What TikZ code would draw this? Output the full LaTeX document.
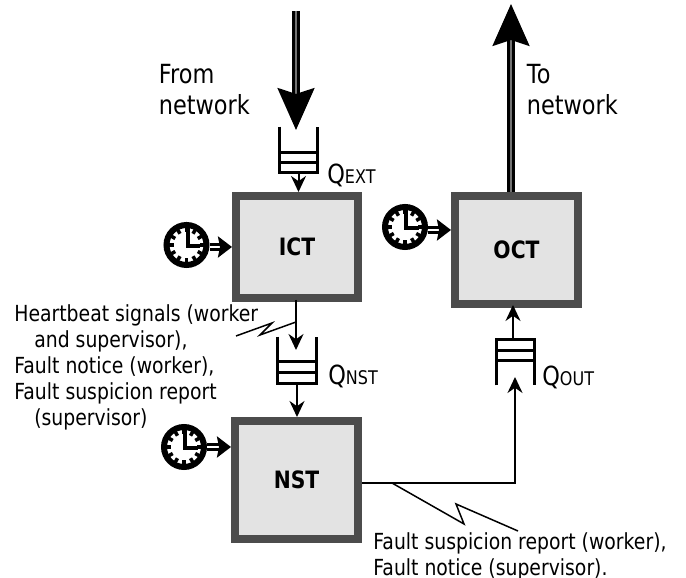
\documentclass[tikz,border=0pt]{standalone}
\usepackage{fontspec}
\setmainfont{DejaVu Sans}[FakeStretch=0.85]
\usetikzlibrary{arrows.meta,calc}

\newcommand{\boxfont}{\fontsize{13.6}{17}\selectfont}
\newcommand{\bigfont}{\fontsize{15}{17.8}\selectfont}
\newcommand{\smallfont}{\fontsize{12.6}{14.8}\selectfont}
\newcommand{\subfont}{\fontsize{10.7}{12}\selectfont}

\newcommand{\clockface}[1]{
  \foreach \a in {0,30,...,330} \draw[tooth] (#1) ++(\a:0.37) -- ++(\a:-0.11);
  \draw[hand] ($(#1)+(0.02,0.34)$) -- ($(#1)+(0.02,-0.02)$) -- ($(#1)+(0.27,-0.02)$);
}
\newcommand{\queuebars}[2]{
  \draw[bar] ([yshift=#2 cm]#1.south west) -- ([yshift=#2 cm]#1.south east);
}

\begin{document}
\begin{tikzpicture}
  [box/.style={draw=black!70,fill=black!11,line width=0.16cm,font=\boxfont\bfseries},
   queue/.style={inner sep=0,minimum width=0.74cm,minimum height=0.9cm},
   clock/.style={draw,shape=circle,fill=white,inner sep=0,minimum size=0.8cm,line width=0.12cm},
   tooth/.style={line width=0.07cm},
   hand/.style={line width=0.08cm},
   bar/.style={line width=0.06cm},
   wall/.style={line width=0.07cm},
   wire/.style={line width=0.04cm,-{Stealth[length=0.32cm,width=0.3cm]}},
   bigarrow/.style={line width=0.055cm,double=black!55,double distance=0.05cm,-{Stealth[length=0.84cm,width=0.74cm,inset=0.12cm]}},
   clockarrow/.style={line width=0.06cm,double=white,double distance=0.04cm,-{Stealth[length=0.28cm,width=0.42cm,inset=0.04cm]}},
   zigzag/.style={line width=0.03cm},
   textlabel/.style={inner sep=0,align=left,anchor=north west}]

  \useasboundingbox (0,0) rectangle (13.72,11.56);

  \node[box,minimum width=2.44cm,minimum height=2.04cm] (ict) at (5.94,6.62) {ICT};
  \node[box,minimum width=2.46cm,minimum height=2.16cm] (oct) at (10.33,6.56) {OCT};
  \node[box,minimum width=2.46cm,minimum height=2.36cm] (nst) at (5.93,1.96) {NST};

  \node[queue] (qext) at (5.97,8.57) {};
  \node[queue,minimum width=0.76cm,minimum height=0.92cm] (qnst) at (5.94,4.36) {};
  \node[queue] (qout) at (10.31,4.31) {};

  \node[clock] (c1) at (3.73,6.66) {};
  \node[clock] (c2) at (8.10,7.02) {};
  \node[clock] (c3) at (3.68,2.62) {};
  \clockface{c1}
  \clockface{c2}
  \clockface{c3}

  \coordinate (netin) at (5.92,11.34);
  \coordinate (qextin) at (5.92,8.96);
  \coordinate (netout) at (10.22,11.48);
  \coordinate (ictout) at (5.92,5.56);
  \coordinate (qnstin) at (5.92,4.56);
  \coordinate (bend) at (10.30,1.90);
  \coordinate (qoutin) at (10.30,4.02);
  \coordinate (octin) at (10.26,5.46);
  \coordinate (t2) at (9.02,6.96);
  \coordinate (t3) at (4.62,2.62);

  % queues
  \draw[wall] (qext.north west) -- (qext.south west) -- (qext.south east) -- (qext.north east);
  \draw[wall] (qnst.north west) -- (qnst.south west) -- (qnst.south east) -- (qnst.north east);
  \draw[wall] (qout.south west) -- (qout.north west) -- (qout.north east) -- (qout.south east);
  \queuebars{qext}{0.2}
  \queuebars{qext}{0.4}
  \queuebars{qnst}{0.22}
  \queuebars{qnst}{0.44}
  \queuebars{qout}{0.5}
  \queuebars{qout}{0.7}

  \draw[bigarrow] (netin) -- (qextin);
  \draw[bigarrow] (netout |- oct.north) -- (netout);
  \draw[wire] (qext.south) -- (qext.south |- ict.north);
  \draw[wire] (ictout) -- (qnstin);
  \draw[wire] (qnst.south) -- (qnst.south |- nst.north);
  \draw[wire] (nst.east |- bend) -- (bend) -- (qoutin);
  \draw[wire] (octin |- qout.north) -- (octin);

  \draw[clockarrow] (c1.east |- ict.west) -- (ict.west);
  \draw[clockarrow] (c2.east |- t2) -- (t2);
  \draw[clockarrow] (c3.east) -- (t3);

  \draw[zigzag] (5.92,5.12) -- (5.20,4.86) -- (5.44,5.10) -- (4.72,4.84);
  \draw[zigzag] (7.84,1.90) -- (9.28,1.08) -- (9.12,1.48) -- (10.36,0.94);

  \node[textlabel,font=\bigfont] (lfrom) at (3.17,10.28) {From\\network};
  \node[textlabel,font=\bigfont] (lto) at (10.53,10.28) {To\\network};

  \node[inner sep=0,anchor=base west,font=\bigfont] (lext) at (6.54,7.88) {Q{\subfont EXT}};
  \node[inner sep=0,anchor=base west,font=\bigfont] (lnst) at (6.56,3.86) {Q{\subfont NST}};
  \node[inner sep=0,anchor=base west,font=\bigfont] (lout) at (10.84,3.84) {Q{\subfont OUT}};

  \node[textlabel,font=\smallfont] (lbeat) at (0.28,5.48)
    {Heartbeat signals (worker\\
     \hspace{0.4cm}and supervisor),\\
     Fault notice (worker),\\
     Fault suspicion report\\
     \hspace{0.4cm}(supervisor)};
  \node[textlabel,font=\smallfont] (lnotice) at (7.46,0.92)
    {Fault suspicion report (worker),\\
     Fault notice (supervisor).};

\end{tikzpicture}
\end{document}
